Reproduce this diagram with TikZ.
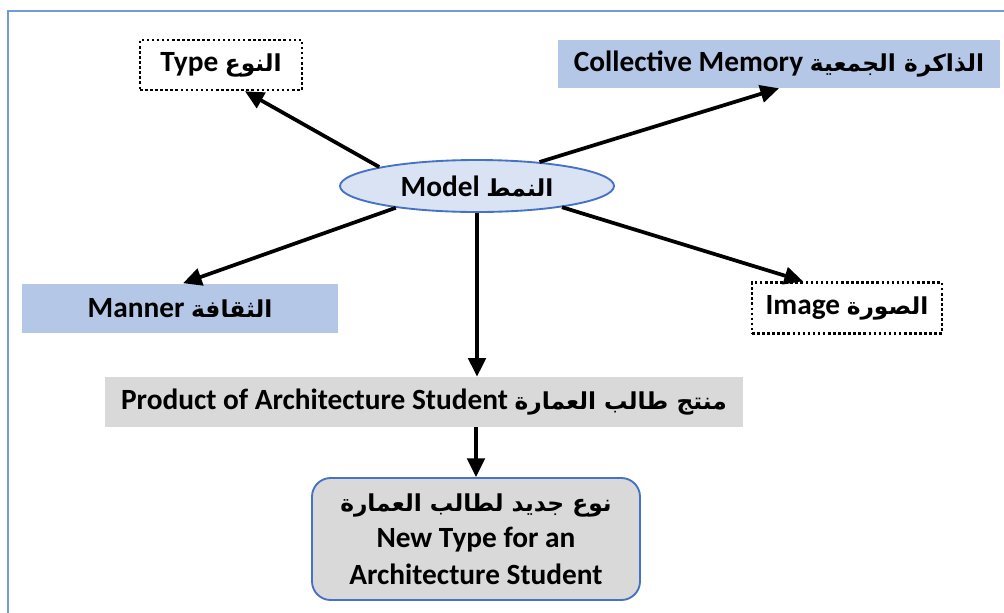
\documentclass[tikz,border=0pt]{standalone}
\usepackage{fontspec}
\setmainfont{Carlito}
\newfontfamily\arabicfont[Script=Arabic]{DejaVu Sans}
\TeXXeTstate=1
\usetikzlibrary{arrows.meta,calc,shapes.geometric}
\definecolor{lightblue}{HTML}{B4C7E7}
\definecolor{paleblue}{HTML}{DAE3F3}
\definecolor{edgeblue}{HTML}{4472C4}
\definecolor{framecol}{HTML}{6F9BD6}
\definecolor{lightgray}{HTML}{D9D9D9}
\newcommand\ar[1]{{\arabicfont\bfseries\fontsize{17.5}{24}\selectfont\beginR #1\endR}}
\tikzset{
  lbl/.style={font=\fontsize{22}{27.5}\selectfont\bfseries, inner sep=0pt, align=center},
  dotbox/.style={lbl, draw=black, line width=1.9pt, dash pattern=on 1.9pt off 1.9pt, minimum width=#1},
  bluebox/.style={lbl, fill=lightblue, minimum width=#1},
  graybox/.style={lbl, fill=lightgray, minimum width=#1},
  link/.style={line width=2.8pt, -{Triangle[length=14pt,width=13pt]}},
}
\begin{document}
\begin{tikzpicture}[x=0.75pt,y=-0.75pt]
\useasboundingbox (0,0) rectangle (1004,612);
\begin{scope}
\clip (0,0) rectangle (1004,612);
\draw[framecol, line width=1.8pt] (8,11) rectangle (1012,630);
\end{scope}

% central concept
\node[lbl, ellipse, draw=edgeblue, line width=1.4pt, fill=paleblue,
      minimum width=205.5pt, minimum height=39pt] (m) at (477,186)
      {Model \ar{النمط}};

% surrounding concepts
\node[dotbox=121.5pt, minimum height=37.5pt] (type) at (221,65) {Type \ar{النوع}};
\node[bluebox=331.5pt, minimum height=36pt] (mem) at (779,64) {Collective Memory \ar{الذاكرة الجمعية}};
\node[bluebox=237pt, minimum height=36.75pt] (manner) at (180,308) {Manner \ar{الثقافة}};
\node[dotbox=142.5pt, minimum height=38.25pt] (img) at (847,308) {Image \ar{الصورة}};
\node[graybox=478.5pt, minimum height=37.5pt] (prod) at (424,402) {Product of Architecture Student \ar{منتج طالب العمارة}};
\node[lbl, fill=lightgray, draw=edgeblue, line width=1.4pt, rounded corners=14pt,
      minimum width=246pt, minimum height=91.5pt] (nt) at (476,539)
      {\ar{نوع جديد لطالب العمارة}\\New Type for an\\Architecture Student};

% connectors
\draw[link] (m.169.7) -- ($(type.south)+(24,0)$);
\draw[link] (m.21.8) -- (mem.south);
\draw[link] (m.195) -- ($(manner.north)+(3,0)$);
\draw[link] (m.-14.5) -- ($(img.north)+(-44,0)$);
\draw[link] (m.south) -- (m.south |- prod.north);
\draw[link] (prod.south -| nt.north) -- (nt.north);
\end{tikzpicture}
\end{document}
